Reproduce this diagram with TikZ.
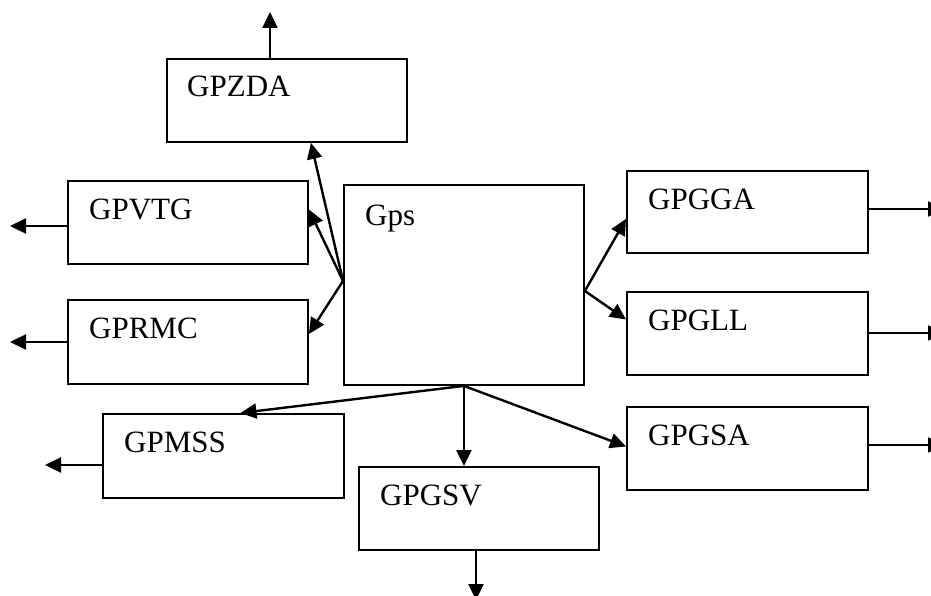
\documentclass[tikz,border=0pt]{standalone}
\usepackage{fontspec}
\setmainfont{Liberation Serif}
\usetikzlibrary{arrows.meta}
\tikzset{
  box/.style={draw, line width=1.9pt, inner sep=0pt, anchor=north west},
  lbl/.style={inner sep=0pt, anchor=base west, font=\fontsize{31}{37}\selectfont},
  conn/.style={line width=2.4pt, -{Triangle[length=16pt,width=15pt]}},
}
\begin{document}
\begin{tikzpicture}[x=1pt,y=-1pt]
\useasboundingbox (0,0) rectangle (931,596);
% boxes
\node[box, minimum width=240pt, minimum height=83pt] (zda) at (166,58) {};
\node[box, minimum width=240pt, minimum height=83pt] (vtg) at (67,180) {};
\node[box, minimum width=240pt, minimum height=84pt] (rmc) at (67,299) {};
\node[box, minimum width=240pt, minimum height=200pt] (gps) at (343,184) {};
\node[box, minimum width=241pt, minimum height=82pt] (gga) at (626,170) {};
\node[box, minimum width=241pt, minimum height=83pt] (gll) at (626,291) {};
\node[box, minimum width=241pt, minimum height=83pt] (gsa) at (626,406) {};
\node[box, minimum width=241pt, minimum height=84pt] (mss) at (102,413) {};
\node[box, minimum width=240pt, minimum height=83pt] (gsv) at (358,466) {};
% labels
\node[lbl] (tzda) at ([shift={(21pt,-39pt)}]zda.north west) {GPZDA};
\node[lbl] (tvtg) at ([shift={(22pt,-39pt)}]vtg.north west) {GPVTG};
\node[lbl] (trmc) at ([shift={(22pt,-39pt)}]rmc.north west) {GPRMC};
\node[lbl] (tgps) at ([shift={(22pt,-41pt)}]gps.north west) {Gps};
\node[lbl] (tgga) at ([shift={(22pt,-39pt)}]gga.north west) {GPGGA};
\node[lbl] (tgll) at ([shift={(22pt,-39pt)}]gll.north west) {GPGLL};
\node[lbl] (tgsa) at ([shift={(22pt,-39pt)}]gsa.north west) {GPGSA};
\node[lbl] (tmss) at ([shift={(22pt,-39pt)}]mss.north west) {GPMSS};
\node[lbl] (tgsv) at ([shift={(22pt,-39pt)}]gsv.north west) {GPGSV};
% hub points on Gps
\coordinate (gL) at ([yshift=4pt]gps.west);
\coordinate (gR) at ([yshift=-6pt]gps.east);
\coordinate (gB) at (gps.south);
% outer free ends
\coordinate (ezda) at (270,12);
\coordinate (evtg) at (10,226);
\coordinate (ermc) at (10,342);
\coordinate (emss) at (45,465);
\coordinate (egsv) at (476,600);
\coordinate (egga) at (944,209);
\coordinate (egll) at (944,333);
\coordinate (egsa) at (944,445);
% connectors from Gps
\draw[conn] (gL) -- ([xshift=24pt]zda.south);
\draw[conn] (gL) -- ([yshift=13pt]vtg.east);
\draw[conn] (gL) -- ([yshift=8pt]rmc.east);
\draw[conn] (gR) -- ([yshift=-7pt]gga.west);
\draw[conn] (gR) -- ([yshift=14pt]gll.west);
\draw[conn] (gB) -- ([yshift=2pt]gsa.west);
\draw[conn] (gB) -- ([xshift=17pt]mss.north);
\draw[conn] (gB) -- (gB |- gsv.north);
% outputs
\draw[conn] (zda.north -| ezda) -- (ezda);
\draw[conn] (vtg.west |- evtg) -- (evtg);
\draw[conn] (rmc.west |- ermc) -- (ermc);
\draw[conn] (mss.west |- emss) -- (emss);
\draw[conn] (gsv.south -| egsv) -- (egsv);
\draw[conn] (gga.east |- egga) -- (egga);
\draw[conn] (gll.east |- egll) -- (egll);
\draw[conn] (gsa.east |- egsa) -- (egsa);
\end{tikzpicture}
\end{document}
